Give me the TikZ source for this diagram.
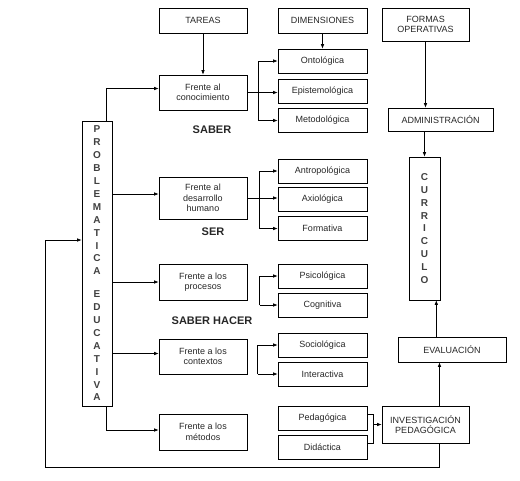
\documentclass[tikz,border=0pt]{standalone}
\usepackage{fontspec}
\setmainfont{Liberation Sans}
\usetikzlibrary{arrows.meta}
\tikzset{box/.style={draw, line width=0.6pt, inner sep=1pt, align=center,
        font=\fontsize{9}{10.5}\selectfont, text=black!85},
 dim/.style={box, minimum width=89pt, minimum height=24pt},
 tarea/.style={box, minimum width=88pt, minimum height=35pt},
 tall/.style={box, font=\bfseries\fontsize{10}{12.9}\selectfont, text=black!75},
 word/.style={font=\bfseries\fontsize{11}{13}\selectfont, text=black!85},
 arr/.style={-{Latex[length=4.5pt,width=3.5pt]}, line width=0.6pt},
 link/.style={line width=0.6pt},
 }

\begin{document}
\begin{tikzpicture}[x=1pt, y=-1pt]
        \useasboundingbox (0,0) rectangle (520,480);
        \node[box, minimum width=88pt, minimum height=25pt] (tareas) at (203, 20.5) {TAREAS};
        \node[box, minimum width=89pt, minimum height=25pt] (dimensiones) at (322.5, 20.5) {DIMENSIONES};
        \node[box, minimum width=87pt, minimum height=33pt] (formas) at (425.5, 24.5) {FORMAS\\OPERATIVAS};
        \node[tarea] (conocimiento) at (203, 92.5) {Frente al\\conocimiento};
        \node[tarea, minimum height=42pt] (desarrollo) at (203, 198) {Frente al\\desarrollo\\humano};
        \node[tarea, minimum height=36pt] (procesos) at (203, 282) {Frente a los\\procesos};
        \node[tarea] (contextos) at (203, 356.5) {Frente a los\\contextos};
        \node[tarea, minimum height=36pt] (metodos) at (203, 432) {Frente a los\\métodos};
        \node[tall, minimum width=30pt, minimum height=285pt] (problematica) at (97, 263.5)
                {P\\R\\O\\B\\L\\E\\M\\A\\T\\I\\C\\A\\[10pt]E\\D\\U\\C\\A\\T\\I\\V\\A};
        \node[dim] (ontologica) at (322.5, 61) {Ontológica};
        \node[dim] (epistemologica) at (322.5, 91) {Epistemológica};
        \node[dim] (metodologica) at (322.5, 120.5) {Metodológica};
        \node[dim] (antropologica) at (322.5, 171) {Antropológica};
        \node[dim] (axiologica) at (322.5, 199) {Axiológica};
        \node[dim] (formativa) at (322.5, 228.5) {Formativa};
        \node[dim] (psicologica) at (322.5, 276) {Psicológica};
        \node[dim] (cognitiva) at (322.5, 305) {Cognitiva};
        \node[dim] (sociologica) at (322.5, 345) {Sociológica};
        \node[dim] (interactiva) at (322.5, 374) {Interactiva};
        \node[dim] (pedagogica) at (322.5, 418) {Pedagógica};
        \node[dim] (didactica) at (322.5, 447) {Didáctica};
        \node[box, minimum width=105pt, minimum height=23pt] (administracion) at (440.5, 119.5) {ADMINISTRACIÓN};
        \node[tall, minimum width=31pt, minimum height=143pt] (curriculo) at (424.5, 228.5) {C\\U\\R\\R\\I\\C\\U\\L\\O};
        \node[box, minimum width=108pt, minimum height=25pt] (evaluacion) at (452, 349.5) {EVALUACIÓN};
        \node[box, minimum width=87pt, minimum height=37pt] (investigacion) at (425.5, 424.5) {INVESTIGACIÓN\\PEDAGÓGICA};
        \node[word] (saber) at (212, 130) {SABER};
        \node[word] (ser) at (213, 232) {SER};
        \node[word] (saberhacer) at (212, 321) {SABER HACER};
        \coordinate (vuelta) at (45, 467);
        \draw[arr] (tareas) -- (conocimiento);
        \draw[arr] (dimensiones) -- (ontologica);
        \draw[arr] (formas.south) -- (formas.south |- administracion.north);
        \draw[arr] (curriculo.north |- administracion.south) -- (curriculo.north);
        \draw[arr] ([xshift=-4pt]curriculo.south east |- evaluacion.north) -- ([xshift=-4pt]curriculo.south east);
        \draw[arr] ([xshift=14pt]investigacion.north) -- ([xshift=14pt]investigacion.north |- evaluacion.south);
        \draw[arr] ([xshift=14pt]investigacion.south) |- (vuelta) |- ([yshift=23.5pt]problematica.west);
        \draw[arr] ([xshift=9pt]problematica.north) |- ([yshift=4pt]conocimiento.west);
        \draw[arr] ([yshift=4pt]desarrollo.west -| problematica.east) -- ([yshift=4pt]desarrollo.west);
        \draw[arr] (problematica.east |- procesos.west) -- (procesos.west);
        \draw[arr] ([yshift=3pt]contextos.west -| problematica.east) -- ([yshift=3pt]contextos.west);
        \draw[arr] ([xshift=9pt]problematica.south) |- ([yshift=2pt]metodos.west);
        \draw[arr] (conocimiento.east) -- (conocimiento.east -| epistemologica.west);
        \draw[arr] ([xshift=-19pt]metodologica.west) |- (ontologica.west);
        \draw[arr] ([xshift=-19pt]metodologica.west) -- (metodologica.west);
        \draw[arr] (desarrollo.east) -- (desarrollo.east -| axiologica.west);
        \draw[arr] ([xshift=-18pt]formativa.west) |- (antropologica.west);
        \draw[arr] ([xshift=-18pt]formativa.west) -- (formativa.west);
        \draw[arr] ([xshift=-18pt]cognitiva.west) |- (psicologica.west);
        \draw[arr] ([xshift=-18pt]cognitiva.west) -- (cognitiva.west);
        \draw[arr] ([xshift=-20pt]interactiva.west) |- (sociologica.west);
        \draw[arr] ([xshift=-20pt]interactiva.west) -- (interactiva.west);
        \draw[link] ([yshift=4pt]pedagogica.east) -| ([xshift=6pt,yshift=4pt]didactica.east) -- ([yshift=4pt]didactica.east);
        \draw[arr] ([xshift=6pt]pedagogica.east |- investigacion.west) -- (investigacion.west);
    \end{tikzpicture}
\end{document}
